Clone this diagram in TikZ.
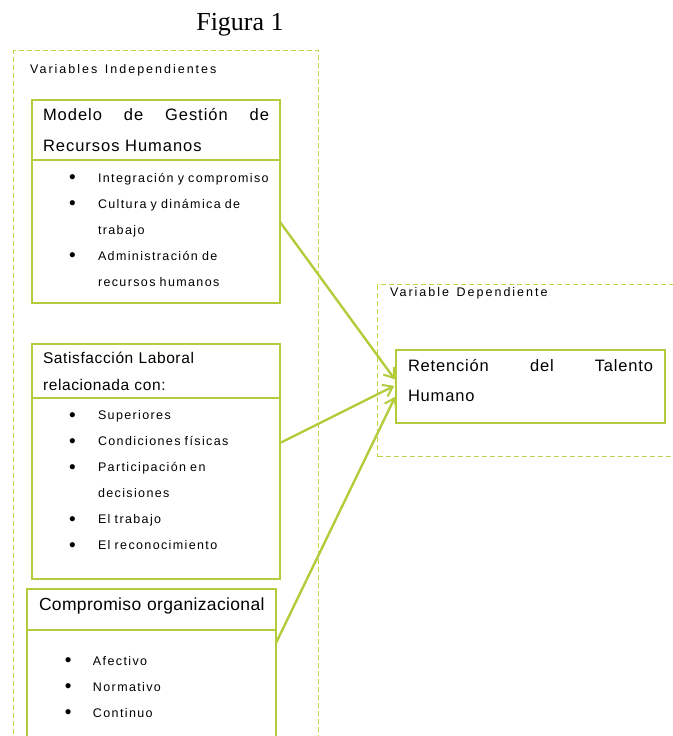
\documentclass[tikz,border=0pt]{standalone}
\usepackage{fontspec}
\setmainfont{Liberation Sans}
\newfontfamily\titlefont{Liberation Serif}
\usetikzlibrary{arrows.meta, positioning}
\definecolor{varline}{RGB}{178,204,60}
\definecolor{varframe}{RGB}{188,212,72}
\newcommand{\smalltext}{\fontsize{12.5}{26}\selectfont\addfontfeature{LetterSpace=11}}
\newcommand{\labeltext}{\fontsize{12.5}{26}\selectfont\addfontfeature{LetterSpace=16}}
\newcommand{\headtext}{\fontsize{16.5}{31}\selectfont\addfontfeature{LetterSpace=6}}
\newcommand{\dotitem}{\raisebox{-1.5pt}{\fontsize{19}{26}\selectfont\textbullet}}

\begin{document}
\begin{tikzpicture}[
    x=1pt, y=-1pt,
    frame/.style={draw=varframe, line width=1.4pt, dash pattern=on 5pt off 3pt},
    head/.style={rectangle, draw=varline, line width=1.3pt, outer sep=0pt, align=left, inner xsep=11pt, inner ysep=0pt, text width=226pt, minimum width=248pt, font=\headtext},
    body/.style={rectangle, draw=varline, line width=1.3pt, outer sep=0pt, align=left, inner sep=0pt, text width=248pt, minimum width=248pt, font=\smalltext},
    arrow/.style={-{Straight Barb[length=9pt, width=13pt, line width=2pt]}, draw=varline, line width=2.4pt, shorten >=2pt}
]
\useasboundingbox (0,0) rectangle (672,736);

\node[font=\titlefont\fontsize{26}{30}\selectfont] (title) at (240,25) {Figura 1};

% independent variables
\node[frame, anchor=north west, minimum width=305pt, minimum height=720pt] (indep) at (13,50) {};
\node[anchor=west, inner sep=0pt, font=\labeltext] (indeplabel) at (30,70) {Variables\, Independientes};

\node[head, anchor=north west, minimum height=60pt] (mgrh) at (32,100) {Modelo\hfill de\hfill Gestión\hfill de\\Recursos Humanos};
\node[body, below=0pt of mgrh, minimum height=143pt] (mgrhbody) {%
\begin{tabular}{@{\hspace{37pt}}p{29pt}@{}l@{}}
\dotitem & Integración y compromiso\\
\dotitem & Cultura y dinámica de\\
 & trabajo\\
\dotitem & Administración de\\
 & recursos humanos
\end{tabular}\vspace{5pt}};

\node[head, anchor=north west, minimum height=54pt, font=\fontsize{15.5}{27}\selectfont\addfontfeature{LetterSpace=4}] (satis) at (32,344) {Satisfacción Laboral\\relacionada con:};
\node[body, below=0pt of satis, minimum height=181pt] (satisbody) {%
\begin{tabular}{@{\hspace{37pt}}p{29pt}@{}l@{}}
\dotitem & Superiores\\
\dotitem & Condiciones físicas\\
\dotitem & Participación en\\
 & decisiones\\
\dotitem & El trabajo\\
\dotitem & El reconocimiento
\end{tabular}\vspace{18pt}};

\node[head, anchor=north west, minimum height=41pt, minimum width=249pt, inner xsep=12pt, text width=225pt, font=\fontsize{17.5}{20}\selectfont\addfontfeature{LetterSpace=2}] (comp) at (27,589) {Compromiso organizacional\vspace{8pt}};
\node[body, below=0pt of comp, minimum height=120pt, minimum width=249pt, text width=249pt] (compbody) {%
\begin{tabular}{@{\hspace{38pt}}p{28pt}@{}l@{}}
\dotitem & Afectivo\\
\dotitem & Normativo\\
\dotitem & Continuo
\end{tabular}\vspace{8pt}};

% dependent variable
\node[frame, anchor=north west, minimum width=310pt, minimum height=172pt] (dep) at (377,284) {};
\node[anchor=west, inner sep=0pt, font=\labeltext] (deplabel) at (390,293) {Variable\, Dependiente};
\node[head, anchor=north west, minimum height=73pt, minimum width=269pt, inner xsep=12pt, text width=245pt, font=\fontsize{16.5}{30}\selectfont\addfontfeature{LetterSpace=5}] (reten) at (396,350) {Retención\hfill del\hfill Talento\\Humano\vspace{12pt}};

\draw[arrow] ([yshift=9.5pt]mgrhbody.east) -- ([yshift=5.5pt]reten.west);
\draw[arrow] ([yshift=45.5pt]satisbody.east) -- ([yshift=1.5pt]reten.west);
\draw[arrow] ([yshift=-13pt]comp.south east) -- ([yshift=-8.5pt]reten.west);
\end{tikzpicture}
\end{document}
